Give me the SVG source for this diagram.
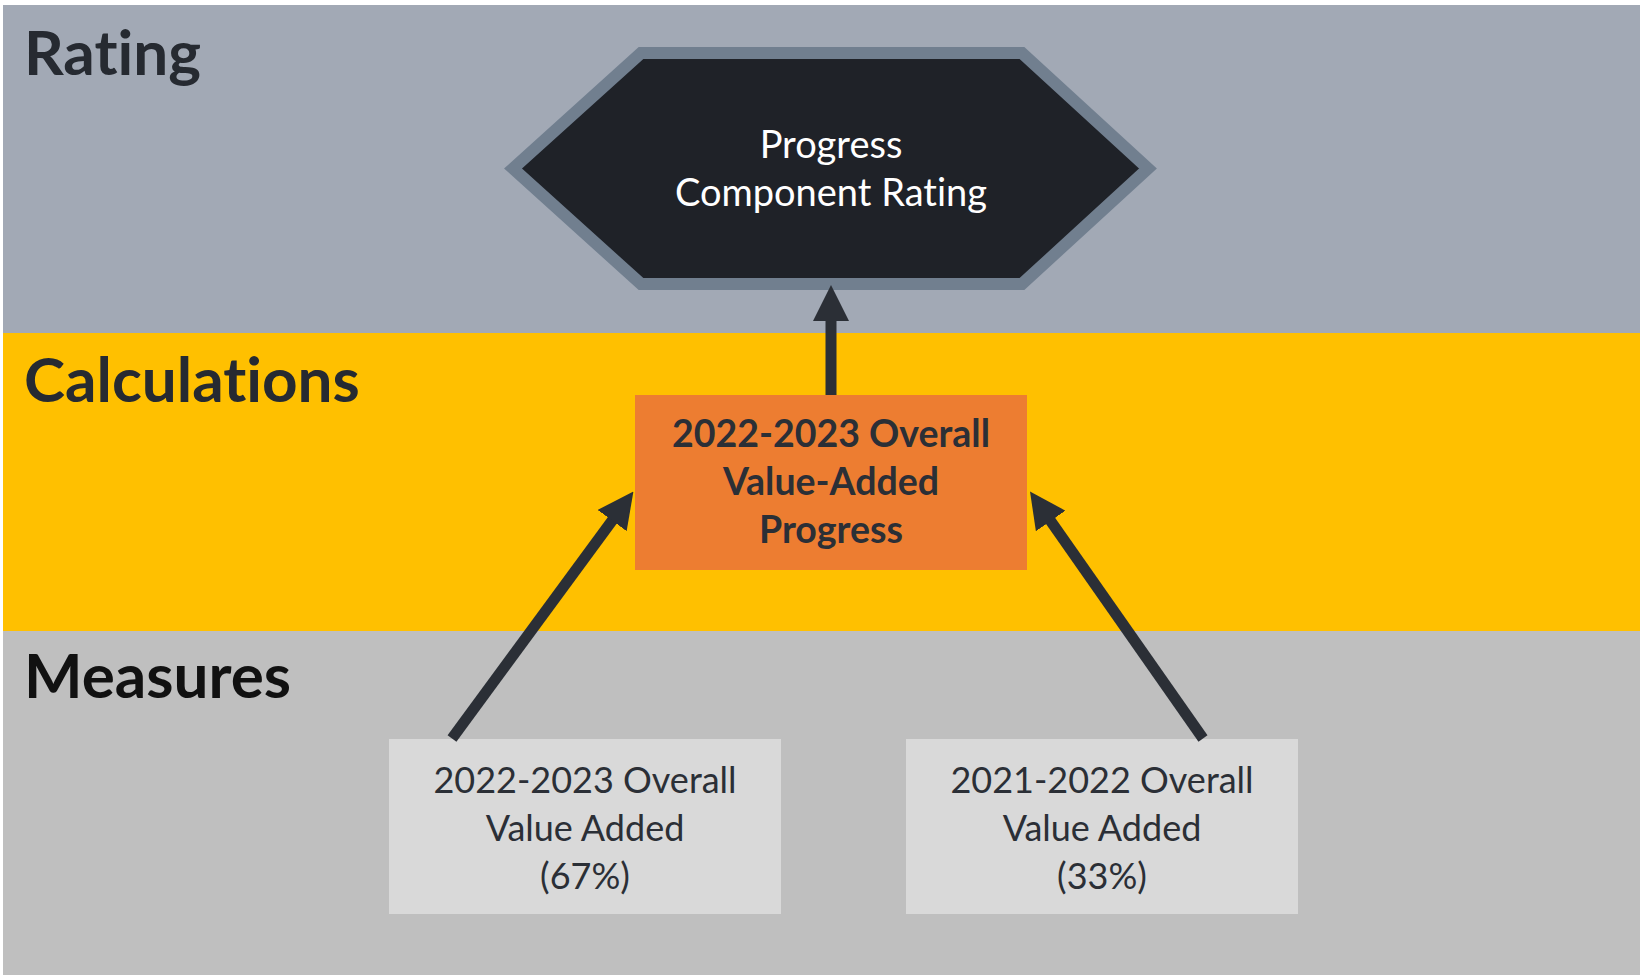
<svg xmlns="http://www.w3.org/2000/svg" width="1640" height="975" viewBox="0 0 1640 975">
  <style>
    text { font-variant-ligatures: none; font-feature-settings: "liga" 0; }
    .band-label { font-family: Lato, "Open Sans", sans-serif; font-weight: 700; font-size: 62px; fill: #262a31; }
    .hex-text { font-family: Lato, "Open Sans", sans-serif; font-size: 38px; fill: #ffffff; text-anchor: middle; }
    .calc-text { font-family: Lato, "Open Sans", sans-serif; font-weight: 700; font-size: 37.5px; fill: #2b2f36; text-anchor: middle; }
    .measure-text { font-family: Lato, "Open Sans", sans-serif; font-size: 36px; fill: #2b2f36; text-anchor: middle; }
    .measure-box { fill: #d9d9d9; }
    .conn { stroke: #2b2f36; stroke-width: 11; fill: none; marker-end: url(#arrow); }
  </style>
  <defs>
    <marker id="arrow" markerUnits="userSpaceOnUse" viewBox="0 0 36 36" markerWidth="36" markerHeight="36" refX="2" refY="18" orient="auto">
      <path d="M0,0 L36,18 L0,36 z" fill="#2b2f36"/>
    </marker>
  </defs>
  <rect x="0" y="0" width="1640" height="975" fill="#ffffff"/>
  <g id="bands">
    <rect x="3" y="5" width="1637" height="328" fill="#a2a9b5"/>
    <rect x="3" y="333" width="1637" height="298" fill="#ffc000"/>
    <rect x="3" y="631" width="1637" height="344" fill="#bfbfbf"/>
    <text class="band-label" x="24" y="75">Rating</text>
    <text class="band-label" x="24" y="402">Calculations</text>
    <text class="band-label" x="24" y="698" style="fill:#111111">Measures</text>
  </g>
  <g id="rating">
    <polygon points="641,53 1022,53 1148,168.5 1022,284 641,284 513,168.5" fill="#1f2228" stroke="#717f8f" stroke-width="12"/>
    <text class="hex-text" x="831" y="158">Progress</text>
    <text class="hex-text" x="831" y="206">Component Rating</text>
  </g>
  <g id="calculation">
    <rect x="635" y="395" width="392" height="175" fill="#ed7d31"/>
    <text class="calc-text" x="831" y="447">2022-2023 Overall</text>
    <text class="calc-text" x="831" y="495">Value-Added</text>
    <text class="calc-text" x="831" y="543">Progress</text>
  </g>
  <g id="measure-2022-2023">
    <rect class="measure-box" x="389" y="739" width="392" height="175"/>
    <text class="measure-text" x="585" y="793">2022-2023 Overall</text>
    <text class="measure-text" x="585" y="841">Value Added</text>
    <text class="measure-text" x="585" y="889">(67%)</text>
  </g>
  <g id="measure-2021-2022">
    <rect class="measure-box" x="906" y="739" width="392" height="175"/>
    <text class="measure-text" x="1102" y="793">2021-2022 Overall</text>
    <text class="measure-text" x="1102" y="841">Value Added</text>
    <text class="measure-text" x="1102" y="889">(33%)</text>
  </g>
  <g id="connectors">
    <line class="conn" x1="831" y1="395" x2="831" y2="319"/>
    <line class="conn" x1="452" y1="738.5" x2="613.3" y2="518.9"/>
    <line class="conn" x1="1203" y1="738.5" x2="1049.5" y2="519.3"/>
  </g>
</svg>
